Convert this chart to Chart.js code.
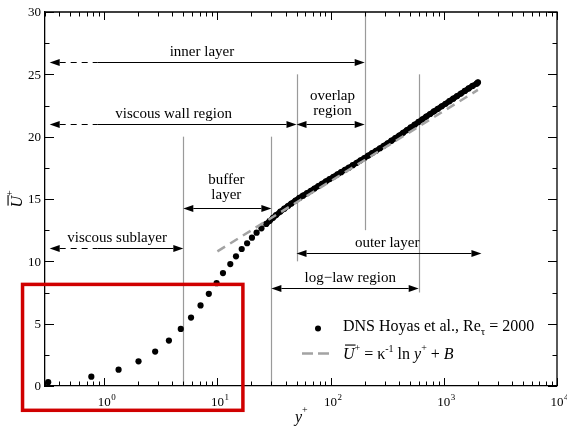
<!DOCTYPE html>
<html>
<head>
<meta charset="utf-8">
<script src="https://cdn.jsdelivr.net/npm/chart.js@4.4.1/dist/chart.umd.min.js"></script>
<style>
  html, body { margin: 0; padding: 0; background: #fff; }
  #wrap { position: relative; width: 567px; height: 428px; }
</style>
</head>
<body>
<div id="wrap"><canvas id="c" width="567" height="428"></canvas></div>
<script>
// DNS mean velocity profile (Hoyas et al., Re_tau = 2000)
const dnsYplus = [0.32, 0.77, 1.34, 2.01, 2.82, 3.73, 4.75, 5.85, 7.1, 8.4, 9.84, 11.2, 13.0, 14.6, 16.4, 18.3, 20.2, 22.2, 24.5,
    27, 29, 31, 33, 36, 39, 42, 45, 49, 53, 57, 62, 67, 72, 78, 84, 91, 98,
    106, 115, 124, 134, 145, 157, 170, 184, 199, 215, 233, 252, 273, 295, 319, 345, 373, 404,
    437, 473, 511, 553, 598, 647, 700, 757, 819, 886, 958, 1036, 1121, 1212, 1311, 1418, 1534, 1659, 1795, 1950, 2003];
const dnsUplus = [0.31, 0.75, 1.31, 1.98, 2.76, 3.64, 4.58, 5.49, 6.46, 7.39, 8.25, 9.06, 9.78, 10.4, 10.99, 11.45, 11.9, 12.3, 12.65,
    13.0, 13.25, 13.49, 13.71, 13.99, 14.22, 14.44, 14.64, 14.88, 15.09, 15.27, 15.47, 15.66, 15.84, 16.04, 16.22, 16.42, 16.60,
    16.78, 16.98, 17.15, 17.33, 17.51, 17.71, 17.90, 18.10, 18.29, 18.48, 18.68, 18.87, 19.07, 19.27, 19.47, 19.68, 19.88, 20.09,
    20.31, 20.53, 20.74, 20.96, 21.18, 21.39, 21.61, 21.82, 22.03, 22.23, 22.44, 22.64, 22.85, 23.05, 23.26, 23.46, 23.67, 23.87, 24.07, 24.25, 24.35];
// beyond this y+ the DNS points are so dense they merge into a band
const denseFrom = 26;

// log law U+ = 1/kappa ln y+ + B, ends of the dashed line
const logLawYplus = [10, 2000];
const logLawUplus = [10.8, 23.75];

const xTickPowers = [0, 1, 2, 3, 4];
const yTicks = [0, 5, 10, 15, 20, 25, 30];

// vertical region separators: y+ position, U+ from / to
const sepX = [5, 30, 50, 200, 600];
const sepFrom = [0, 0, 10, 12.5, 7.5];
const sepTo = [20, 20, 25, 30, 25];

// region arrows
const arrowNames = ['inner layer', 'viscous wall region', 'overlap\nregion', 'buffer\nlayer', 'viscous sublayer', 'outer layer', 'log\u2212law region'];
const arrowU = [26, 21, 21, 14.3, 11.1, 10.7, 7.9];
const arrowFrom = [0.33, 0.33, 50, 5, 0.33, 50, 30];
const arrowTo = [200, 50, 200, 30, 5, 2150, 600];
const arrowDashTo = [0.87, 0.87, null, null, 0.87, null, null];
const arrowLabelX = [7.3, 4.1, 104, 12, 1.3, 316, 149];

// highlighted box (red frame around the near-wall part)
const boxYplus = [0.19, 16.8];
const boxUplus = [-1.95, 8.15];

const SERIF = '"Liberation Serif", "Times New Roman", serif';

function head(ctx, tx, ty, dir, hl, hw) {
    ctx.beginPath();
    ctx.moveTo(tx, ty);
    ctx.lineTo(tx + dir * hl, ty - hw);
    ctx.lineTo(tx + dir * hl, ty + hw);
    ctx.closePath();
    ctx.fill();
}

function richWidth(ctx, parts) {
    let w = 0;
    parts.forEach(p => { ctx.font = p.f; w += ctx.measureText(p.t).width; });
    return w;
}

function drawRich(ctx, x, yb, parts) {
    parts.forEach(p => {
        ctx.font = p.f;
        ctx.fillText(p.t, x, yb + (p.dy || 0));
        const w = ctx.measureText(p.t).width;
        if (p.over) ctx.fillRect(x + 2, yb - p.over, w - 1, 1.1);
        x += w;
    });
}

const annot = {
    id: 'annot',
    beforeDatasetsDraw(chart) {
        const { ctx, scales: { x, y } } = chart;
        ctx.save();
        ctx.strokeStyle = '#9a9a9a';
        ctx.lineWidth = 1.2;
        sepX.forEach((v, i) => {
            const px = Math.round(x.getPixelForValue(v)) + 0.5;
            ctx.beginPath();
            ctx.moveTo(px, y.getPixelForValue(sepFrom[i]));
            ctx.lineTo(px, y.getPixelForValue(sepTo[i]));
            ctx.stroke();
        });

        ctx.strokeStyle = '#000';
        ctx.fillStyle = '#000';
        ctx.lineWidth = 1;
        arrowNames.forEach((name, i) => {
            const py = Math.round(y.getPixelForValue(arrowU[i])) + 0.5;
            const x1 = x.getPixelForValue(arrowFrom[i]);
            const x2 = x.getPixelForValue(arrowTo[i]);
            const hl = 10, hw = 3.5;
            let xs = x1 + hl;
            if (arrowDashTo[i]) {
                const xd = x.getPixelForValue(arrowDashTo[i]);
                ctx.setLineDash([6, 5]);
                ctx.beginPath(); ctx.moveTo(xs, py); ctx.lineTo(xd, py); ctx.stroke();
                ctx.setLineDash([]);
                xs = xd;
            }
            ctx.beginPath(); ctx.moveTo(xs, py); ctx.lineTo(x2 - hl, py); ctx.stroke();
            head(ctx, x1, py, 1, hl, hw);
            head(ctx, x2, py, -1, hl, hw);

            ctx.font = '15px ' + SERIF;
            ctx.textAlign = 'center';
            ctx.textBaseline = 'alphabetic';
            const lines = name.split('\n');
            const gap = lines.length > 1 ? 10 : 7;
            const lx = x.getPixelForValue(arrowLabelX[i]);
            lines.forEach((t, k) => ctx.fillText(t, lx, py - gap - (lines.length - 1 - k) * 15));
        });
        ctx.restore();
    },
    afterDraw(chart) {
        const { ctx, chartArea: a, scales: { x, y } } = chart;
        ctx.save();
        ctx.strokeStyle = '#000';
        ctx.fillStyle = '#000';

        // top and right frame
        ctx.lineWidth = 1.3;
        ctx.beginPath();
        ctx.moveTo(a.left, a.top); ctx.lineTo(a.right, a.top); ctx.lineTo(a.right, a.bottom);
        ctx.stroke();

        // inward ticks
        ctx.lineWidth = 1;
        for (let p = -1; p <= 4; p++) {
            for (let m = 1; m <= 9; m++) {
                const v = m * Math.pow(10, p);
                if (v < x.min || v > x.max) continue;
                const px = Math.round(x.getPixelForValue(v)) + 0.5;
                const len = m === 1 ? 8 : 4.5;
                ctx.beginPath();
                ctx.moveTo(px, a.bottom); ctx.lineTo(px, a.bottom - len);
                ctx.moveTo(px, a.top); ctx.lineTo(px, a.top + len);
                ctx.stroke();
            }
        }
        for (let v = 0; v <= 30; v += 2.5) {
            const py = Math.round(y.getPixelForValue(v)) + 0.5;
            const len = v % 5 === 0 ? 9 : 4.5;
            ctx.beginPath();
            ctx.moveTo(a.left, py); ctx.lineTo(a.left + len, py);
            ctx.moveTo(a.right, py); ctx.lineTo(a.right - len, py);
            ctx.stroke();
        }

        // tick labels
        ctx.textBaseline = 'alphabetic';
        xTickPowers.forEach(p => {
            const px = x.getPixelForValue(Math.pow(10, p));
            ctx.font = '13px ' + SERIF;
            ctx.textAlign = 'center';
            ctx.fillText('10', px, a.bottom + 20);
            const w = ctx.measureText('10').width;
            ctx.font = '9px ' + SERIF;
            ctx.textAlign = 'left';
            ctx.fillText(String(p), px + w / 2 + 0.5, a.bottom + 14);
        });
        ctx.font = '13px ' + SERIF;
        ctx.textAlign = 'right';
        ctx.textBaseline = 'middle';
        yTicks.forEach(v => ctx.fillText(String(v), a.left - 4, y.getPixelForValue(v) + 1));

        // axis titles
        ctx.textAlign = 'left';
        ctx.textBaseline = 'alphabetic';
        const xt = [{ t: 'y', f: 'italic 16px ' + SERIF }, { t: '+', f: '10px ' + SERIF, dy: -9 }];
        drawRich(ctx, (a.left + a.right) / 2 - 6, a.bottom + 36, xt);

        const yt = [{ t: 'U', f: 'italic 16px ' + SERIF, over: 14 }, { t: '+', f: '10px ' + SERIF, dy: -9 }];
        ctx.save();
        ctx.translate(15.5, (a.top + a.bottom) / 2);
        ctx.rotate(-Math.PI / 2);
        drawRich(ctx, -richWidth(ctx, yt) / 2, 6, yt);
        ctx.restore();

        // legend
        const lx = a.right - 214;
        ctx.beginPath();
        ctx.arc(a.right - 239, a.bottom - 57.5, 3, 0, Math.PI * 2);
        ctx.fill();
        drawRich(ctx, lx, a.bottom - 55, [
            { t: 'DNS Hoyas et al., Re', f: '16px ' + SERIF },
            { t: '\u03c4', f: '11px ' + SERIF, dy: 4 },
            { t: ' = 2000', f: '16px ' + SERIF }
        ]);
        ctx.strokeStyle = '#a3a3a3';
        ctx.lineWidth = 2.5;
        ctx.beginPath();
        ctx.moveTo(a.right - 255, a.bottom - 32.5); ctx.lineTo(a.right - 244, a.bottom - 32.5);
        ctx.moveTo(a.right - 239, a.bottom - 32.5); ctx.lineTo(a.right - 228, a.bottom - 32.5);
        ctx.stroke();
        drawRich(ctx, lx, a.bottom - 27.5, [
            { t: 'U', f: 'italic 16px ' + SERIF, over: 14 },
            { t: '+', f: '10px ' + SERIF, dy: -8 },
            { t: ' = \u03ba', f: '16px ' + SERIF },
            { t: '-1', f: '10px ' + SERIF, dy: -7 },
            { t: ' ln ', f: '16px ' + SERIF },
            { t: 'y', f: 'italic 16px ' + SERIF },
            { t: '+', f: '10px ' + SERIF, dy: -8 },
            { t: ' + ', f: '16px ' + SERIF },
            { t: 'B', f: 'italic 16px ' + SERIF }
        ]);

        // red highlight box
        const bx1 = x.getPixelForValue(boxYplus[0]), bx2 = x.getPixelForValue(boxYplus[1]);
        const by1 = y.getPixelForValue(boxUplus[1]), by2 = y.getPixelForValue(boxUplus[0]);
        ctx.strokeStyle = '#d00000';
        ctx.lineWidth = 3.5;
        ctx.strokeRect(bx1, by1, bx2 - bx1, by2 - by1);
        ctx.restore();
    }
};

const ctx = document.getElementById('c').getContext('2d');
window.profileChart = new Chart(ctx, {
    type: 'scatter',
    data: {
        datasets: [
            {
                label: 'log law',
                data: logLawYplus.map((v, i) => ({ x: v, y: logLawUplus[i] })),
                showLine: true,
                borderColor: '#a3a3a3',
                borderWidth: 2.5,
                borderDash: [9, 6],
                pointRadius: 0,
                order: 0
            },
            {
                label: 'DNS Hoyas et al.',
                data: dnsYplus.map((v, i) => ({ x: v, y: dnsUplus[i] })),
                showLine: true,
                borderColor: '#000',
                borderWidth: 5.5,
                borderCapStyle: 'round',
                segment: {
                    borderColor: c => dnsYplus[c.p0DataIndex] < denseFrom ? 'rgba(0,0,0,0)' : undefined
                },
                pointRadius: 3.1,
                backgroundColor: '#000',
                pointBorderWidth: 0,
                order: 1
            }
        ]
    },
    options: {
        responsive: false,
        animation: false,
        layout: { padding: { top: 12, right: 10, left: 0, bottom: 0 } },
        plugins: { legend: { display: false }, tooltip: { enabled: false } },
        scales: {
            x: {
                type: 'logarithmic',
                min: 0.316,
                max: 10000,
                grid: { display: false, drawTicks: false },
                border: { color: '#000', width: 1.3 },
                ticks: { display: false },
                afterFit: s => { s.height = 42; }
            },
            y: {
                min: 0,
                max: 30,
                grid: { display: false, drawTicks: false },
                border: { color: '#000', width: 1.3 },
                ticks: { display: false },
                afterFit: s => { s.width = 45; }
            }
        }
    },
    plugins: [annot]
});
</script>
</body>
</html>
